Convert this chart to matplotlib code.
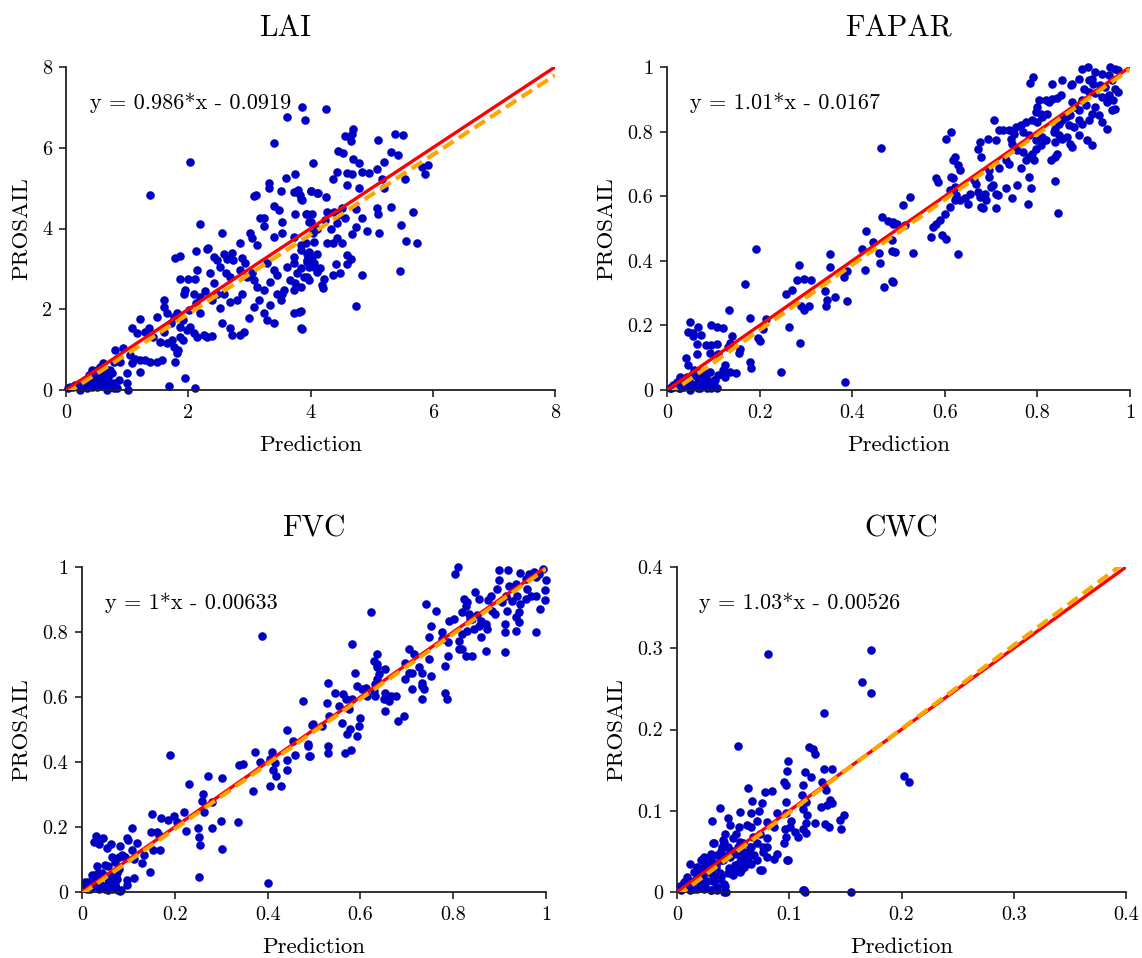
import matplotlib
matplotlib.use('Agg')
import matplotlib.pyplot as plt
from matplotlib.ticker import FuncFormatter, MultipleLocator

plt.rcParams['font.family'] = ['cmr10', 'DejaVu Serif']
plt.rcParams['mathtext.fontset'] = 'cm'
plt.rcParams['axes.formatter.use_mathtext'] = True

titles = ['LAI', 'FAPAR', 'FVC', 'CWC']
eq_labels = ['y = 0.986*x - 0.0919', 'y = 1.01*x - 0.0167',
             'y = 1*x - 0.00633', 'y = 1.03*x - 0.00526']
slopes = [0.986, 1.01, 1.0, 1.03]
intercepts = [-0.0919, -0.0167, -0.00633, -0.00526]
axis_max = [8, 1, 1, 0.4]
tick_step = [2, 0.2, 0.2, 0.1]

# (Prediction, PROSAIL) pairs
lai_points = [
    (3.86, 7.0), (3.62, 6.76), (3.91, 6.69), (3.40, 6.13), (2.03, 5.64), (4.04, 5.62), (1.38, 4.83), (2.19, 4.11),
    (3.6, 5.24), (3.75, 5.36), (3.32, 5.13), (3.32, 5.01), (3.07, 4.81), (3.11, 4.83),
    (3.52, 4.93), (3.73, 4.91), (3.79, 4.95), (3.83, 4.83), (4.0, 4.93), (4.11, 4.88),
    (3.40, 4.56), (3.48, 4.46), (3.84, 4.72), (3.75, 4.36), (3.95, 4.36), (4.0, 4.17), (3.54, 4.15), (3.24, 4.25), (3.17, 4.25), (3.24, 4.07),
    (2.55, 3.90), (3.01, 3.90), (3.04, 3.76), (3.12, 3.59), (2.85, 3.63),
    (3.40, 3.80), (3.54, 3.90), (3.73, 3.80), (3.84, 3.59), (3.95, 3.38), (4.05, 3.67),
    (1.79, 3.28), (1.87, 3.33), (2.13, 3.44), (2.31, 3.49), (2.33, 3.52),
    (2.42, 3.30), (2.47, 3.22), (2.58, 3.36), (2.63, 3.24), (2.72, 3.39), (2.74, 3.22), (2.88, 3.26), (2.93, 3.14),
    (2.14, 2.96), (2.36, 2.89), (2.52, 3.05), (2.61, 2.89), (2.69, 2.81), (2.85, 2.97), (2.96, 2.81), (3.04, 2.89),
    (1.87, 2.74), (1.99, 2.74), (2.11, 2.76),
    (3.29, 3.14), (3.40, 2.97), (3.45, 2.85), (3.62, 3.05), (3.73, 3.14), (3.78, 2.89), (3.89, 2.81), (3.97, 3.05), (4.05, 3.14), (3.95, 3.22), (3.73, 3.30),
    (3.07, 2.72), (3.12, 2.56), (3.24, 2.48), (3.34, 2.68), (3.45, 2.39), (3.56, 2.48), (3.67, 2.72), (3.75, 2.64), (3.84, 2.56), (3.95, 2.81), (3.73, 2.48),
    (2.42, 2.64), (2.47, 2.39), (2.28, 2.44), (2.20, 2.31), (2.39, 2.23), (2.58, 2.39), (2.52, 2.02), (2.69, 2.19), (2.80, 2.23), (2.88, 2.39),
    (1.95, 2.48), (1.93, 2.39), (2.09, 2.39), (2.12, 2.15), (2.20, 1.90), (2.01, 1.98),
    (3.07, 2.06), (3.15, 2.23), (3.24, 1.90), (3.34, 2.10), (3.40, 1.65), (3.29, 1.73), (3.73, 1.90), (3.81, 1.94), (3.84, 1.53), (3.51, 2.23), (3.54, 2.39),
    (2.99, 1.78), (2.91, 1.44), (2.85, 1.36), (2.69, 1.53), (2.72, 1.36), (2.55, 1.65), (2.39, 1.34), (2.31, 1.32), (2.25, 1.36),
    (1.60, 2.23), (1.60, 2.06), (1.49, 1.82), (1.66, 1.90), (1.71, 1.65), (1.77, 1.82), (1.81, 1.90), (1.87, 1.57), (1.92, 1.73), (1.98, 1.49),
    (2.03, 1.57), (2.09, 1.40), (2.14, 1.32), (1.87, 1.32), (1.92, 1.24),
    (1.21, 1.77), (1.08, 1.54), (1.16, 1.40), (1.30, 1.44), (1.35, 1.53), (1.43, 1.32), (1.54, 1.20), (1.60, 1.44), (1.65, 1.16), (1.73, 1.24),
    (1.76, 1.07), (1.81, 0.91), (1.79, 0.70), (1.84, 0.99),
    (0.80, 0.99), (0.94, 1.03), (1.05, 0.87), (1.13, 0.78), (1.21, 0.74), (1.30, 0.74), (1.38, 0.70), (1.49, 0.70), (1.57, 0.74), (1.08, 0.66),
    (1.21, 0.45), (0.99, 0.43), (0.89, 0.70), (0.78, 0.70), (0.72, 0.50), (0.64, 0.33), (0.56, 0.37), (0.50, 0.50), (0.42, 0.50), (0.37, 0.37),
    (0.61, 0.66), (0.45, 0.25), (0.31, 0.25), (0.23, 0.12), (0.12, 0.08), (0.04, 0.04),
    (1.95, 0.29), (1.69, 0.10), (2.11, 0.04), (1.02, 0.0), (0.78, 0.04), (0.34, 0.04), (0.45, 0.12), (0.56, 0.12), (0.23, 0.0), (0.67, 0.0),
    (4.26, 6.95), (4.70, 6.46), (4.68, 6.35), (4.67, 6.16), (4.56, 6.29), (5.38, 6.34), (5.52, 6.31), (5.11, 6.20), (4.45, 5.92), (4.53, 5.86),
    (5.32, 5.90), (5.43, 5.82), (4.70, 5.73), (4.79, 5.63), (5.21, 5.64), (5.08, 5.47), (4.43, 5.39), (4.60, 5.38), (4.68, 5.36), (4.85, 5.39),
    (4.96, 5.38), (4.37, 5.22), (5.17, 5.22), (5.55, 5.22), (5.83, 5.53), (5.93, 5.57), (5.87, 5.36), (4.60, 5.07), (4.79, 5.01), (5.20, 5.01),
    (4.01, 4.93), (4.13, 4.88), (4.25, 4.79), (3.86, 4.70), (3.93, 4.36), (4.03, 4.36), (4.27, 4.40), (4.38, 4.41), (4.52, 4.51), (4.45, 4.33),
    (4.75, 4.48), (4.84, 4.27), (4.57, 4.25), (5.09, 4.52), (5.11, 4.36), (5.31, 4.54), (5.68, 4.41), (3.97, 4.17), (4.11, 4.00), (4.23, 4.21),
    (4.33, 3.98), (4.44, 4.13), (4.04, 3.90), (4.27, 3.63), (4.37, 3.63), (4.52, 3.63), (4.43, 3.77), (4.74, 4.04), (4.68, 3.86), (4.93, 3.94),
    (5.12, 3.88), (5.48, 4.08), (5.56, 3.69), (5.74, 3.65), (3.84, 3.47), (3.92, 3.63), (3.97, 3.43), (4.03, 3.30), (4.11, 3.38), (3.95, 3.18),
    (4.05, 3.05), (4.16, 3.01), (3.84, 3.01), (3.97, 2.72), (4.11, 2.92), (4.22, 2.76), (4.21, 2.52), (4.19, 2.60), (4.37, 2.85), (4.42, 3.11),
    (4.48, 2.89), (4.60, 3.34), (4.67, 3.24), (4.60, 3.11), (4.85, 2.84), (4.74, 2.08), (5.46, 2.95), (3.84, 1.96), (3.86, 1.51),
    (0.07, 0.08), (0.15, 0.12), (0.23, 0.17), (0.31, 0.17), (0.39, 0.21), (0.50, 0.29), (0.56, 0.33), (0.61, 0.37), (0.42, 0.08), (0.50, 0.08),
    (0.58, 0.12), (0.67, 0.17), (0.72, 0.08), (0.78, 0.17), (0.83, 0.04), (0.23, 0.04), (0.61, 0.21), (0.69, 0.29), (0.48, 0.45), (0.56, 0.58),
    (0.67, 0.50), (0.75, 0.41), (0.86, 0.25), (0.99, 0.17),
]

fapar_points = [
    (0.463, 0.749), (0.193, 0.435), (0.464, 0.536), (0.477, 0.523), (0.489, 0.515), (0.429, 0.492), (0.446, 0.459), (0.457, 0.425),
    (0.486, 0.431), (0.459, 0.392), (0.468, 0.320), (0.486, 0.337), (0.486, 0.464),
    (0.351, 0.421), (0.352, 0.381), (0.286, 0.387), (0.280, 0.340), (0.296, 0.345), (0.311, 0.340), (0.388, 0.369), (0.382, 0.351), (0.421, 0.437), (0.427, 0.373),
    (0.168, 0.327), (0.257, 0.296), (0.271, 0.309), (0.289, 0.260), (0.296, 0.249), (0.307, 0.261), (0.341, 0.306), (0.346, 0.280), (0.344, 0.261), (0.362, 0.287), (0.388, 0.276),
    (0.134, 0.249), (0.179, 0.224), (0.207, 0.188), (0.196, 0.160), (0.200, 0.152), (0.213, 0.219), (0.263, 0.194), (0.287, 0.144), (0.246, 0.057), (0.384, 0.026),
    (0.049, 0.209), (0.045, 0.181), (0.056, 0.175), (0.057, 0.167), (0.066, 0.194), (0.074, 0.170), (0.094, 0.201), (0.109, 0.196), (0.120, 0.193),
    (0.064, 0.141), (0.084, 0.138), (0.096, 0.139), (0.109, 0.141), (0.093, 0.116), (0.111, 0.113), (0.141, 0.167), (0.157, 0.126), (0.156, 0.115),
    (0.137, 0.144), (0.132, 0.134), (0.179, 0.088), (0.182, 0.067), (0.150, 0.054), (0.136, 0.057), (0.125, 0.078), (0.125, 0.041), (0.121, 0.062),
    (0.104, 0.031), (0.111, 0.046), (0.093, 0.057), (0.089, 0.026), (0.079, 0.052), (0.064, 0.113), (0.041, 0.100), (0.046, 0.077), (0.057, 0.046),
    (0.029, 0.041), (0.021, 0.026), (0.014, 0.015), (0.036, 0.015), (0.050, 0.021), (0.068, 0.026), (0.071, 0.005), (0.096, 0.005), (0.050, 0.0),
    (0.029, 0.005), (0.007, 0.005),
    (0.009, 0.005), (0.016, 0.010), (0.023, 0.015), (0.030, 0.021), (0.037, 0.026), (0.044, 0.031), (0.051, 0.010), (0.059, 0.015), (0.066, 0.021),
    (0.073, 0.010), (0.080, 0.015), (0.087, 0.005), (0.094, 0.010), (0.101, 0.015), (0.109, 0.005), (0.037, 0.010), (0.026, 0.005), (0.066, 0.005),
    (0.044, 0.041), (0.055, 0.046), (0.066, 0.036), (0.076, 0.031), (0.084, 0.041), (0.059, 0.062), (0.069, 0.057), (0.087, 0.026), (0.101, 0.031),
    (0.896, 0.995), (0.909, 1.0), (0.957, 1.0), (0.968, 0.995), (0.975, 0.992), (0.925, 0.985), (0.939, 0.979), (0.954, 0.974), (0.918, 0.964),
    (0.911, 0.959), (0.921, 0.948), (0.936, 0.943), (0.946, 0.938), (0.961, 0.959), (0.968, 0.933), (0.975, 0.923), (0.889, 0.964), (0.875, 0.948),
    (0.900, 0.933), (0.911, 0.923), (0.925, 0.918), (0.939, 0.907), (0.954, 0.912), (0.964, 0.897), (0.950, 0.892), (0.968, 0.871), (0.961, 0.866),
    (0.791, 0.969), (0.784, 0.952), (0.832, 0.948), (0.854, 0.959), (0.873, 0.943), (0.850, 0.912), (0.843, 0.905), (0.832, 0.902), (0.818, 0.897),
    (0.825, 0.892), (0.804, 0.899), (0.875, 0.892), (0.882, 0.876), (0.896, 0.897), (0.889, 0.866), (0.904, 0.881), (0.925, 0.876), (0.918, 0.856),
    (0.911, 0.835), (0.932, 0.851), (0.939, 0.830), (0.950, 0.809), (0.871, 0.851), (0.861, 0.845), (0.854, 0.835), (0.868, 0.820), (0.879, 0.814),
    (0.846, 0.825), (0.839, 0.809), (0.836, 0.799), (0.846, 0.789), (0.854, 0.778), (0.864, 0.784), (0.875, 0.753), (0.871, 0.763), (0.889, 0.789),
    (0.907, 0.773), (0.918, 0.758), (0.896, 0.825), (0.889, 0.835), (0.839, 0.768), (0.838, 0.722), (0.843, 0.732), (0.829, 0.711),
    (0.800, 0.876), (0.796, 0.861), (0.807, 0.856), (0.811, 0.845), (0.821, 0.856), (0.789, 0.835), (0.800, 0.830), (0.775, 0.830), (0.764, 0.820),
    (0.754, 0.814), (0.739, 0.804), (0.725, 0.804), (0.718, 0.804), (0.750, 0.794), (0.768, 0.799), (0.782, 0.789), (0.796, 0.773), (0.811, 0.784),
    (0.818, 0.773), (0.807, 0.758), (0.796, 0.747), (0.789, 0.732), (0.782, 0.722), (0.793, 0.711), (0.775, 0.711), (0.768, 0.737), (0.757, 0.742),
    (0.746, 0.763), (0.743, 0.778), (0.707, 0.835), (0.675, 0.768), (0.671, 0.747), (0.693, 0.778), (0.711, 0.773), (0.679, 0.722),
    (0.621, 0.722), (0.618, 0.711), (0.629, 0.696), (0.632, 0.680), (0.614, 0.799), (0.602, 0.778), (0.618, 0.655), (0.614, 0.660), (0.621, 0.629),
    (0.618, 0.613), (0.582, 0.655), (0.586, 0.644), (0.611, 0.619), (0.625, 0.603), (0.632, 0.588), (0.643, 0.593), (0.654, 0.608), (0.650, 0.577),
    (0.668, 0.639), (0.664, 0.649), (0.671, 0.613), (0.675, 0.598), (0.686, 0.608), (0.689, 0.588), (0.679, 0.567), (0.682, 0.562), (0.696, 0.660),
    (0.700, 0.629), (0.704, 0.634), (0.711, 0.608), (0.714, 0.603), (0.711, 0.562), (0.732, 0.624), (0.746, 0.593), (0.757, 0.634), (0.764, 0.686),
    (0.782, 0.660), (0.786, 0.624), (0.779, 0.577), (0.696, 0.680), (0.718, 0.686), (0.732, 0.711), (0.739, 0.701), (0.837, 0.647), (0.845, 0.549),
    (0.525, 0.598), (0.509, 0.572), (0.514, 0.510), (0.532, 0.423), (0.493, 0.428), (0.489, 0.335), (0.571, 0.474), (0.575, 0.505), (0.582, 0.515),
    (0.589, 0.526), (0.600, 0.546), (0.611, 0.567), (0.621, 0.588), (0.602, 0.469), (0.629, 0.421), (0.593, 0.479), (0.488, 0.521), (0.496, 0.515),
]

fvc_points = [
    (0.389, 0.789), (0.477, 0.588), (0.190, 0.423),
    (0.496, 0.515), (0.441, 0.499), (0.455, 0.464), (0.487, 0.448), (0.491, 0.418), (0.459, 0.423), (0.442, 0.405), (0.442, 0.374), (0.409, 0.432),
    (0.405, 0.408), (0.384, 0.401), (0.373, 0.432), (0.416, 0.398), (0.412, 0.375), (0.419, 0.356), (0.405, 0.325), (0.429, 0.325), (0.368, 0.312),
    (0.338, 0.392), (0.348, 0.394), (0.301, 0.351), (0.271, 0.356), (0.231, 0.333), (0.260, 0.301), (0.258, 0.281), (0.263, 0.247), (0.280, 0.278),
    (0.219, 0.247), (0.204, 0.216), (0.224, 0.187), (0.251, 0.196), (0.253, 0.170), (0.254, 0.146), (0.281, 0.198), (0.299, 0.218), (0.301, 0.131),
    (0.337, 0.216), (0.252, 0.046), (0.400, 0.028),
    (0.151, 0.240), (0.171, 0.227), (0.185, 0.222), (0.199, 0.235), (0.149, 0.186), (0.161, 0.186), (0.165, 0.175), (0.153, 0.129), (0.168, 0.129),
    (0.147, 0.062), (0.108, 0.196), (0.097, 0.165), (0.100, 0.160), (0.118, 0.151), (0.082, 0.141), (0.086, 0.115), (0.093, 0.108), (0.079, 0.108),
    (0.065, 0.108), (0.054, 0.134), (0.063, 0.149), (0.030, 0.172), (0.036, 0.162), (0.045, 0.165), (0.025, 0.155), (0.036, 0.149), (0.108, 0.129),
    (0.111, 0.103), (0.133, 0.113), (0.129, 0.088), (0.113, 0.043), (0.097, 0.036), (0.097, 0.023), (0.072, 0.093), (0.079, 0.072), (0.032, 0.079),
    (0.050, 0.082), (0.057, 0.079), (0.043, 0.057), (0.068, 0.057), (0.075, 0.041), (0.065, 0.031), (0.054, 0.021), (0.029, 0.036), (0.014, 0.031),
    (0.007, 0.021), (0.018, 0.010), (0.036, 0.010), (0.057, 0.005), (0.082, 0.003), (0.072, 0.021), (0.032, 0.046), (0.022, 0.052),
    (0.006, 0.031), (0.014, 0.021), (0.010, 0.010), (0.021, 0.015), (0.028, 0.026), (0.032, 0.036), (0.035, 0.046), (0.042, 0.021), (0.049, 0.010),
    (0.057, 0.015), (0.064, 0.026), (0.067, 0.010), (0.071, 0.021), (0.078, 0.005), (0.085, 0.005), (0.057, 0.041), (0.046, 0.052), (0.064, 0.046),
    (0.075, 0.057), (0.028, 0.052), (0.035, 0.057),
    (0.810, 1.0), (0.804, 0.979), (0.899, 0.990), (0.919, 0.990), (0.945, 0.981), (0.963, 0.979), (0.974, 0.985), (0.985, 0.979), (0.994, 0.995),
    (0.999, 0.959), (0.998, 0.928), (0.998, 0.897), (0.978, 0.969), (0.956, 0.964), (0.935, 0.948), (0.920, 0.943), (0.899, 0.959), (0.895, 0.933),
    (0.881, 0.912), (0.876, 0.897), (0.884, 0.866), (0.891, 0.856), (0.906, 0.892), (0.913, 0.912), (0.926, 0.894), (0.917, 0.866), (0.938, 0.912),
    (0.945, 0.887), (0.960, 0.933), (0.967, 0.912), (0.956, 0.902), (0.978, 0.912), (0.988, 0.871), (0.978, 0.801), (0.942, 0.861), (0.935, 0.845),
    (0.942, 0.830), (0.935, 0.804), (0.912, 0.825), (0.912, 0.801), (0.912, 0.739), (0.870, 0.742), (0.873, 0.809), (0.870, 0.825), (0.859, 0.835),
    (0.859, 0.784), (0.855, 0.820), (0.852, 0.851), (0.841, 0.840), (0.855, 0.902), (0.848, 0.923), (0.830, 0.892), (0.827, 0.881), (0.823, 0.902),
    (0.819, 0.861), (0.834, 0.856), (0.837, 0.840), (0.845, 0.809), (0.830, 0.804), (0.819, 0.794), (0.812, 0.773), (0.819, 0.747), (0.827, 0.727),
    (0.841, 0.727), (0.812, 0.747), (0.801, 0.840), (0.791, 0.835), (0.776, 0.799), (0.776, 0.778), (0.789, 0.727), (0.783, 0.696), (0.789, 0.768),
    (0.764, 0.866), (0.742, 0.885), (0.753, 0.820), (0.747, 0.784), (0.747, 0.716), (0.753, 0.665), (0.733, 0.675), (0.726, 0.691), (0.715, 0.732),
    (0.704, 0.747), (0.697, 0.706), (0.704, 0.675), (0.712, 0.675), (0.696, 0.655), (0.733, 0.644), (0.712, 0.624), (0.732, 0.634), (0.737, 0.624),
    (0.733, 0.593), (0.783, 0.613), (0.787, 0.593), (0.694, 0.541), (0.681, 0.526), (0.676, 0.603), (0.667, 0.603), (0.654, 0.613), (0.650, 0.593),
    (0.661, 0.588), (0.654, 0.557), (0.632, 0.603), (0.629, 0.619), (0.632, 0.639), (0.636, 0.655), (0.640, 0.670), (0.654, 0.686), (0.636, 0.691),
    (0.636, 0.701), (0.629, 0.711), (0.636, 0.732), (0.622, 0.863), (0.582, 0.763), (0.589, 0.675), (0.593, 0.634), (0.604, 0.624), (0.611, 0.629),
    (0.614, 0.603), (0.600, 0.536), (0.597, 0.510), (0.593, 0.479), (0.578, 0.502), (0.571, 0.485), (0.560, 0.521), (0.575, 0.562), (0.568, 0.593),
    (0.553, 0.572), (0.546, 0.613), (0.530, 0.644), (0.528, 0.582), (0.532, 0.541), (0.517, 0.510), (0.497, 0.518), (0.488, 0.454), (0.490, 0.418),
    (0.530, 0.448), (0.530, 0.428), (0.566, 0.428), (0.580, 0.438), (0.563, 0.608), (0.582, 0.593),
]

cwc_points = [
    (0.081, 0.293), (0.173, 0.298), (0.165, 0.259), (0.173, 0.245), (0.131, 0.220), (0.202, 0.143), (0.207, 0.135), (0.054, 0.180),
    (0.118, 0.178), (0.121, 0.176), (0.123, 0.170), (0.099, 0.161), (0.098, 0.149), (0.114, 0.148), (0.131, 0.151), (0.138, 0.151),
    (0.095, 0.135), (0.097, 0.132), (0.119, 0.142), (0.129, 0.136), (0.131, 0.130), (0.133, 0.125), (0.136, 0.113), (0.138, 0.109), (0.134, 0.107), (0.128, 0.105),
    (0.063, 0.128), (0.078, 0.123), (0.085, 0.124), (0.112, 0.132), (0.111, 0.119), (0.097, 0.111), (0.115, 0.111),
    (0.038, 0.103), (0.067, 0.112), (0.076, 0.110), (0.056, 0.099), (0.066, 0.097), (0.073, 0.100), (0.089, 0.097), (0.097, 0.097), (0.112, 0.102),
    (0.116, 0.095), (0.115, 0.085), (0.102, 0.088), (0.112, 0.077), (0.115, 0.073), (0.123, 0.085), (0.132, 0.084), (0.135, 0.080), (0.146, 0.077),
    (0.149, 0.095), (0.145, 0.089),
    (0.031, 0.088), (0.045, 0.091), (0.047, 0.082), (0.055, 0.080), (0.062, 0.082), (0.066, 0.080), (0.071, 0.087), (0.080, 0.086), (0.086, 0.080),
    (0.096, 0.077), (0.101, 0.080), (0.097, 0.068), (0.108, 0.068), (0.105, 0.074), (0.095, 0.060), (0.099, 0.040), (0.089, 0.047), (0.080, 0.056),
    (0.077, 0.049), (0.080, 0.043), (0.074, 0.027), (0.063, 0.039), (0.065, 0.047), (0.058, 0.051), (0.056, 0.062), (0.050, 0.066), (0.041, 0.064),
    (0.040, 0.055), (0.032, 0.060), (0.030, 0.047), (0.043, 0.072), (0.053, 0.072), (0.068, 0.068), (0.074, 0.072), (0.080, 0.066),
    (0.012, 0.035), (0.018, 0.031), (0.021, 0.039), (0.024, 0.043), (0.027, 0.037), (0.015, 0.025), (0.009, 0.019), (0.006, 0.012), (0.003, 0.008),
    (0.012, 0.014), (0.018, 0.019), (0.024, 0.023), (0.030, 0.027), (0.035, 0.031), (0.041, 0.039), (0.047, 0.043), (0.053, 0.047), (0.032, 0.014),
    (0.038, 0.016), (0.043, 0.008), (0.044, 0.0), (0.035, 0.004), (0.030, 0.002), (0.024, 0.004), (0.018, 0.004), (0.012, 0.002), (0.032, 0.021),
    (0.046, 0.029), (0.052, 0.033), (0.056, 0.037), (0.060, 0.031), (0.050, 0.021), (0.056, 0.025), (0.065, 0.056), (0.059, 0.060), (0.071, 0.060),
    (0.112, 0.002), (0.114, 0.0), (0.155, 0.0), (0.025, 0.010), (0.038, 0.023),
    (0.0035, 0.002), (0.008, 0.006), (0.012, 0.010), (0.015, 0.014), (0.020, 0.019), (0.024, 0.023), (0.027, 0.027), (0.032, 0.031), (0.035, 0.035),
    (0.039, 0.039), (0.042, 0.043), (0.046, 0.047), (0.049, 0.051), (0.054, 0.056), (0.057, 0.060), (0.033, 0.014), (0.039, 0.019), (0.042, 0.010),
    (0.036, 0.006), (0.030, 0.002), (0.024, 0.006), (0.045, 0.023), (0.051, 0.027), (0.054, 0.035), (0.057, 0.039), (0.060, 0.043), (0.063, 0.049),
    (0.066, 0.056), (0.027, 0.014), (0.021, 0.010), (0.015, 0.004), (0.011, 0.014), (0.018, 0.027), (0.024, 0.031), (0.030, 0.039), (0.036, 0.045),
    (0.039, 0.051), (0.033, 0.060), (0.042, 0.062), (0.045, 0.056), (0.057, 0.027), (0.060, 0.031), (0.066, 0.035), (0.071, 0.039), (0.069, 0.045),
    (0.076, 0.027), (0.077, 0.056), (0.086, 0.041), (0.098, 0.039), (0.036, 0.002), (0.042, 0.0), (0.113, 0.002), (0.030, 0.023), (0.023, 0.016),
]

all_points = [lai_points, fapar_points, fvc_points, cwc_points]

W, H = 1142, 958
# axes rectangles in pixels: (left, top, right, bottom)
rects_px = [(66, 67, 555, 390), (667, 67, 1130, 390), (82, 567, 546, 892), (677, 567, 1126, 892)]
title_x = [0.448, 0.5, 0.5, 0.5]

fig = plt.figure(figsize=(W / 100, H / 100), dpi=100)
point_color = '#0000C4'

for i in range(4):
    l, t, r, b = rects_px[i]
    ax = fig.add_axes([l / W, 1 - b / H, (r - l) / W, (b - t) / H])
    pts = all_points[i]
    xs = [p[0] for p in pts]
    ys = [p[1] for p in pts]
    m = axis_max[i]
    ax.scatter(xs, ys, s=38, color=point_color, linewidths=0, zorder=2, clip_on=False)
    ax.plot([0, m], [0, m], color='#FF0000', lw=2.4, zorder=3, solid_capstyle='butt')
    a, c = slopes[i], intercepts[i]
    ax.plot([0, m], [c, a * m + c], color='#FFA500', lw=3.0, ls=(0, (3.0, 1.5)), zorder=4)
    ax.set_xlim(0, m)
    ax.set_ylim(0, m)
    ax.xaxis.set_major_locator(MultipleLocator(tick_step[i]))
    ax.yaxis.set_major_locator(MultipleLocator(tick_step[i]))
    fmt = FuncFormatter(lambda v, p: ('%g' % round(v, 6)))
    ax.xaxis.set_major_formatter(fmt)
    ax.yaxis.set_major_formatter(fmt)
    for s in ['top', 'right']:
        ax.spines[s].set_visible(False)
    for s in ['left', 'bottom']:
        ax.spines[s].set_linewidth(1.3)
        ax.spines[s].set_color('#222222')
    ax.tick_params(direction='out', length=5, width=1.2, labelsize=14.5, colors='#222222', labelcolor='black', pad=5)
    ax.set_title(titles[i], fontsize=21.5, pad=22, x=title_x[i])
    ax.set_xlabel('Prediction', fontsize=16.5, labelpad=10)
    ax.set_ylabel('PROSAIL', fontsize=16.5, labelpad=8)
    ax.text(0.05, 0.89, eq_labels[i], transform=ax.transAxes, fontsize=16, va='center', ha='left')

fig.savefig('out.png', dpi=100)
